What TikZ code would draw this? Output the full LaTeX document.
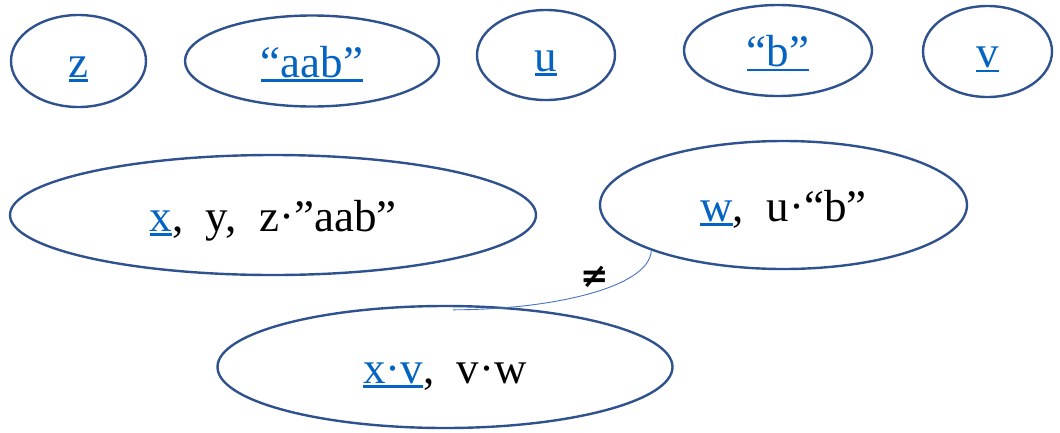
\documentclass[tikz,border=0pt]{standalone}
\usepackage{fontspec}
\setmainfont{Liberation Serif}
\newfontfamily\symfont{DejaVu Sans}
\usepackage{xcolor}
\usetikzlibrary{shapes.geometric}
\definecolor{ovalBlue}{RGB}{47,82,143}
\definecolor{linkBlue}{RGB}{5,99,193}
\definecolor{curveBlue}{RGB}{68,114,196}
\newcommand{\lnk}[1]{{\color{linkBlue}\setbox0\hbox{#1}\rlap{\rule[-4.5pt]{\wd0}{2.2pt}}\box0}}

\begin{document}
\begin{tikzpicture}[x=1pt,y=-1pt,
  oval/.style={ellipse, draw=ovalBlue, line width=2.4pt, inner sep=0pt,
    text height=32pt, text depth=0pt, font=\fontsize{45}{50}\selectfont}]
\useasboundingbox (0,0) rectangle (1060,432);
% top row
\node[oval, minimum width=135, minimum height=92] (z) at (78.5,61) {\lnk{z}};
\node[oval, minimum width=254, minimum height=91] (aab) at (312,61) {\lnk{“aab”}};
\node[oval, minimum width=138, minimum height=90] (u) at (546,55) {\lnk{u}};
\node[oval, minimum width=188, minimum height=91] (b) at (778,50.5) {\lnk{“b”}};
\node[oval, minimum width=129, minimum height=91] (v) at (987.5,51.5) {\lnk{v}};
% lower ovals
\node[oval, minimum width=526, minimum height=120] (xyz) at (273,215) {\lnk{x},\ \ y,\ \ z·”aab”};
\node[oval, minimum width=367, minimum height=128] (w) at (783.5,205) {\lnk{w},\ \ u·“b”};
\node[oval, minimum width=455, minimum height=122] (xv) at (445,367) {\lnk{x·v},\ \ v·w};
% not equal
\coordinate (neqend) at ([xshift=8pt,yshift=-5pt]xv.north);
\draw[curveBlue, line width=0.9pt] (w.199) .. controls +(-2,38) and +(95,0) .. (neqend);
\node (neq) at (595,277) {\symfont\bfseries\fontsize{34}{38}\selectfont ≠};
\end{tikzpicture}
\end{document}
